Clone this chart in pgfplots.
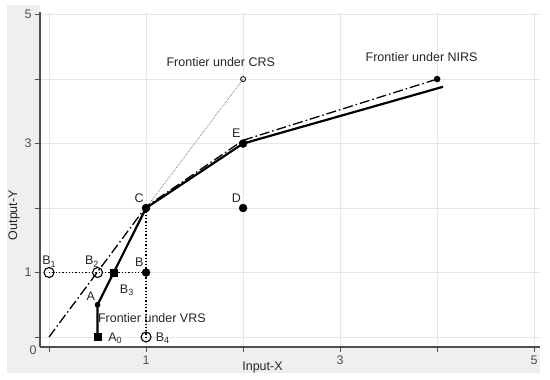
\documentclass[border=0pt]{standalone}
\usepackage{pgfplots}
\pgfplotsset{compat=1.18}
\usepackage{fontspec}
\setmainfont{Liberation Sans}
\definecolor{bggray}{HTML}{EFEFEF}
\definecolor{gridgray}{HTML}{E6E6E6}
\definecolor{axgray}{HTML}{505050}
\newcommand{\sub}[1]{\raisebox{-0.35ex}{\fontsize{9}{10}\selectfont #1}}
\begin{document}
\begin{tikzpicture}[x=1pt,y=1pt]
\useasboundingbox (-40,-33) rectangle (510,347);
\fill[bggray] (-33,-26) rectangle (500,342);
\fill[white] (0,0) rectangle (510,347);
\begin{axis}[
  at={(0,0)}, anchor=south west,
  scale only axis, width=500pt, height=335pt,
  xmin=-0.093, xmax=5.06, ymin=-0.155, ymax=5.04,
  axis lines=left, axis line style={axgray, line width=1.1pt, -},
  xtick={0,1,2,3,4,5}, xticklabels={,1,,3,,5},
  ytick={0,1,2,3,4,5}, yticklabels={,1,,3,,5},
  tick style={axgray, line width=0.9pt},
  tick align=outside, major tick length=5pt,
  ticklabel style={font=\fontsize{12.5}{14}\selectfont, text=axgray},
  /pgf/number format/assume math mode=true,
  grid=major, major grid style={gridgray, line width=0.8pt},
  clip=false,
]
% CRS dotted extension
\addplot[gray, densely dotted, line width=0.8pt] coordinates {(1,2) (2,4)};
% dotted helpers
\addplot[black, dotted, line width=1.3pt] coordinates {(0,1) (1,1)};
\addplot[black, dotted, line width=1.3pt] coordinates {(1,2) (1,0)};
% VRS solid frontier
\addplot[black, line width=2.2pt] coordinates {(0.5,0) (0.5,0.5) (1,2) (2,3) (4.06,3.88)};
% NIRS dash-dot frontier
\addplot[black, line width=1.3pt, dash pattern=on 10pt off 3pt on 1.5pt off 3pt] coordinates {(0,0) (1,2.02) (2,3.05) (4,4)};
% filled circles
\addplot[only marks, mark=*, mark size=4pt, black] coordinates {(1,2) (2,3) (2,2) (1,1)};
\addplot[only marks, mark=*, mark size=3pt, black] coordinates {(4,4)};
\addplot[only marks, mark=*, mark size=2.6pt, black] coordinates {(0.5,0.5)};
\addplot[only marks, mark=square*, mark size=3.6pt, black] coordinates {(0.5,0) (0.667,1)};
% open circles
\addplot[only marks, mark=o, mark size=5pt, black, line width=1.1pt, mark options={fill=white}] coordinates {(0,1) (0.5,1) (1,0)};
\addplot[only marks, mark=o, mark size=2.5pt, black, line width=0.8pt, mark options={fill=white}] coordinates {(2,4)};
% texts
\tikzset{lab/.style={font=\fontsize{12.5}{14}\selectfont, text=black!85}}
\node[lab] at (axis cs:1.77,4.26) {Frontier under CRS};
\node[lab] at (axis cs:3.84,4.34) {Frontier under NIRS};
\node[lab] at (axis cs:1.06,0.29) {Frontier under VRS};
\node[lab] at (axis cs:0.93,2.15) {C};
\node[lab] at (axis cs:1.93,3.16) {E};
\node[lab] at (axis cs:1.93,2.15) {D};
\node[lab] at (axis cs:0.93,1.16) {B};
\node[lab] at (axis cs:0,1.17) {B\sub{1}};
\node[lab] at (axis cs:0.44,1.17) {B\sub{2}};
\node[lab] at (axis cs:0.8,0.72) {B\sub{3}};
\node[lab] at (axis cs:0.43,0.64) {A};
\node[lab] at (axis cs:0.68,-0.02) {A\sub{0}};
\node[lab] at (axis cs:1.17,-0.02) {B\sub{4}};
\node[font=\fontsize{12.5}{14}\selectfont, text=axgray] at (axis cs:-0.165,-0.2) {0};
\node[lab] at (axis cs:2.2,-0.48) {Input-X};
\node[lab, rotate=90] at (axis cs:-0.36,1.89) {Output-Y};
\end{axis}
\end{tikzpicture}
\end{document}
